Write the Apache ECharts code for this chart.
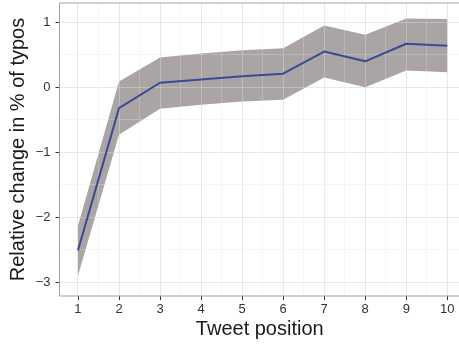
<!DOCTYPE html>
<html>
<head>
<meta charset="utf-8">
<script src="https://cdn.jsdelivr.net/npm/echarts@6/dist/echarts.min.js"></script>
<style>html,body{margin:0;padding:0;background:#fff}#c{width:459px;height:345px}</style>
</head>
<body>
<div id="c"></div>
<script>
const positions = [1, 2, 3, 4, 5, 6, 7, 8, 9, 10];
const meanChange = [-2.51, -0.32, 0.07, 0.12, 0.17, 0.21, 0.55, 0.40, 0.67, 0.64];
const upperCI = [-2.13, 0.09, 0.46, 0.52, 0.57, 0.60, 0.95, 0.81, 1.06, 1.05];
const lowerCI = [-2.90, -0.73, -0.33, -0.27, -0.22, -0.19, 0.15, 0.00, 0.26, 0.23];
const xTicks = [1, 2, 3, 4, 5, 6, 7, 8, 9, 10];
const xMinor = [1.5, 2.5, 3.5, 4.5, 5.5, 6.5, 7.5, 8.5, 9.5];
const yTicks = [-3, -2, -1, 0, 1];
const yMinor = [-2.5, -1.5, -0.5, 0.5];

const chart = echarts.init(document.getElementById('c'), null, {renderer: 'canvas'});
const font = "'Liberation Sans', Arial, Helvetica, sans-serif";
const majorCol = 'rgba(212,212,212,0.5)';
const minorCol = 'rgba(224,224,224,0.3)';
const xMin = 0.55, xMax = 10.31, yMin = -3.21, yMax = 1.297;
const minus = v => String(v).replace('-', '\u2212');
const snap = v => Math.round(v - 0.5) + 0.5;

chart.setOption({
  animation: false,
  grid: {left: 59.5, right: -1, top: 3, bottom: 49, show: true, borderColor: '#a0a0a0', borderWidth: 1, z: 6, outerBoundsMode: 'none', containLabel: false},
  xAxis: {
    type: 'value', min: xMin, max: xMax,
    name: 'Tweet position', nameLocation: 'middle', nameGap: 23, nameMoveOverlap: false,
    nameTextStyle: {fontFamily: font, fontSize: 20, color: '#1a1a1a'},
    axisLine: {show: false, onZero: false},
    axisTick: {show: true, length: 4, lineStyle: {color: '#333'}, customValues: xTicks},
    axisLabel: {fontFamily: font, fontSize: 13, color: '#333', margin: 7, customValues: xTicks},
    splitLine: {show: false}
  },
  yAxis: {
    type: 'value', min: yMin, max: yMax,
    name: 'Relative change in % of typos', nameLocation: 'middle', nameGap: 31, nameMoveOverlap: false,
    nameTextStyle: {fontFamily: font, fontSize: 20, color: '#1a1a1a'},
    axisLine: {show: false, onZero: false},
    axisTick: {show: true, length: 4, lineStyle: {color: '#333'}, customValues: yTicks},
    axisLabel: {fontFamily: font, fontSize: 13, color: '#333', margin: 9, customValues: yTicks, formatter: minus},
    splitLine: {show: false}
  },
  series: [{
    type: 'custom', z: 1, silent: true,
    data: positions.map((x, i) => [x, lowerCI[i], upperCI[i]]),
    renderItem: function (params, api) {
      if (params.dataIndex !== 0) return null;
      const pts = [];
      for (let i = 0; i < positions.length; i++) pts.push(api.coord([positions[i], upperCI[i]]));
      for (let i = positions.length - 1; i >= 0; i--) pts.push(api.coord([positions[i], lowerCI[i]]));
      return {type: 'polygon', shape: {points: pts}, style: {fill: '#aaa5a4'}};
    },
    encode: {x: 0, y: [1, 2]}
  }, {
    type: 'custom', z: 3, silent: true,
    data: [[xMin, yMin]],
    renderItem: function (params, api) {
      const children = [];
      const top = api.coord([xMin, yMax])[1], bottom = api.coord([xMin, yMin])[1];
      const left = api.coord([xMin, yMin])[0], right = api.coord([xMax, yMin])[0];
      const vline = (v, col) => {
        const x = snap(api.coord([v, yMin])[0]);
        children.push({type: 'line', shape: {x1: x, y1: top, x2: x, y2: bottom}, style: {stroke: col, lineWidth: 1}});
      };
      const hline = (v, col) => {
        const y = snap(api.coord([xMin, v])[1]);
        children.push({type: 'line', shape: {x1: left, y1: y, x2: right, y2: y}, style: {stroke: col, lineWidth: 1}});
      };
      xMinor.forEach(v => vline(v, minorCol));
      yMinor.forEach(v => hline(v, minorCol));
      xTicks.forEach(v => vline(v, majorCol));
      yTicks.forEach(v => hline(v, majorCol));
      return {type: 'group', children: children};
    },
    encode: {x: 0, y: 1}
  }, {
    type: 'line', z: 5,
    data: positions.map((x, i) => [x, meanChange[i]]),
    symbol: 'none',
    lineStyle: {color: '#3a4a94', width: 2}
  }]
});
</script>
</body>
</html>
